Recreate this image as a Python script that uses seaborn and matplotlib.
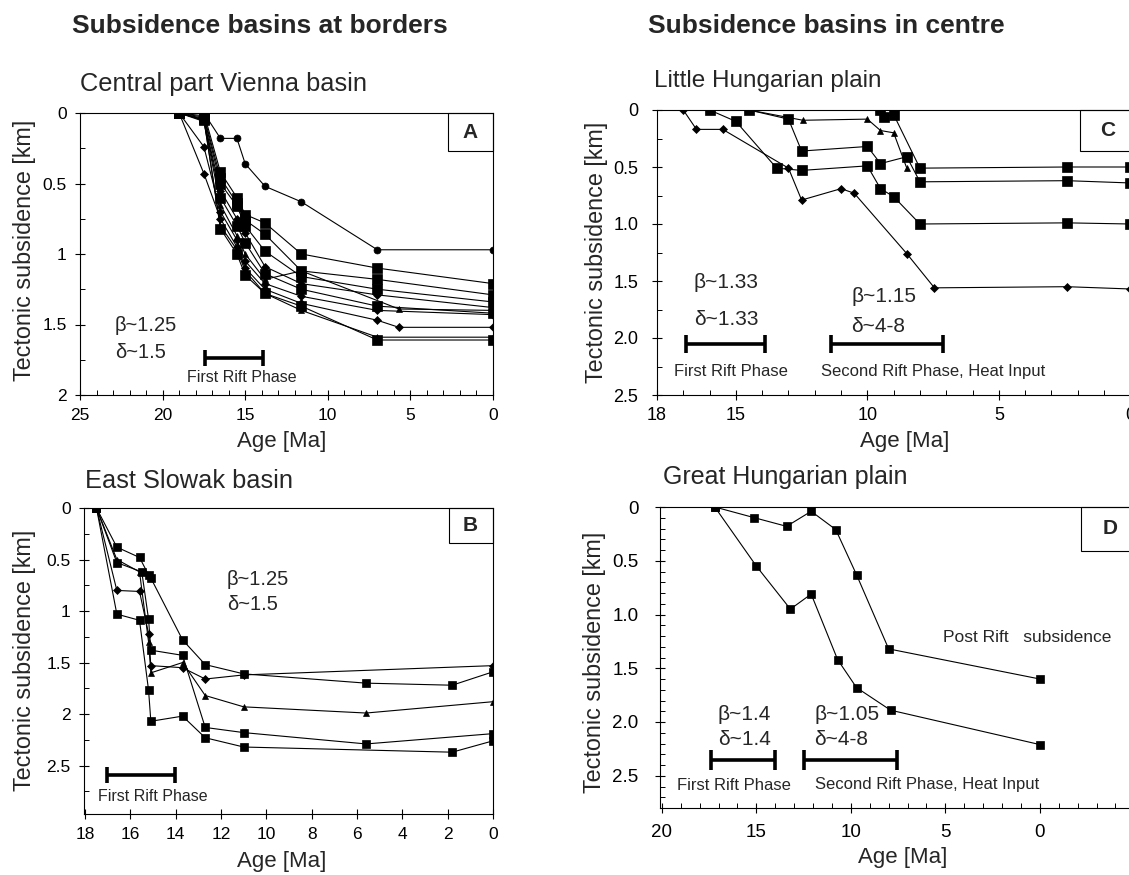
import numpy as np
import pandas as pd
import matplotlib
matplotlib.use("Agg")
import matplotlib.pyplot as plt
import seaborn as sns
from matplotlib.patches import Rectangle
from matplotlib.ticker import MultipleLocator

# ---------------- data ----------------
# Panel A: Central part Vienna basin (common age grid, NaN = no point)
A_AGES = [19.0, 17.5, 16.5, 15.5, 15.0, 13.8, 11.6, 7.0, 5.7, 0.0]
A_VALUES = [
    [np.nan, 0.00, 0.18, 0.18, 0.36, 0.52, 0.63, 0.97, np.nan, 0.97],
    [0.00, 0.00, 0.42, 0.60, 0.72, 0.78, 1.00, 1.10, np.nan, 1.21],
    [0.00, 0.02, 0.46, 0.64, 0.76, 0.86, 1.12, 1.18, np.nan, 1.29],
    [0.00, 0.03, 0.50, 0.66, 0.80, 0.98, 1.16, 1.25, np.nan, 1.34],
    [0.00, 0.05, 0.55, 0.75, 0.85, 1.09, 1.21, 1.29, np.nan, 1.38],
    [0.00, 0.05, 0.60, 0.80, 0.92, 1.14, 1.25, 1.37, np.nan, 1.42],
    [0.00, 0.06, 0.65, 0.87, 1.00, 1.18, 1.12, np.nan, 1.39, 1.40],
    [0.00, 0.24, 0.70, 0.90, 1.05, 1.21, 1.30, 1.40, np.nan, 1.43],
    [0.00, 0.43, 0.75, 0.95, 1.10, 1.25, 1.35, 1.47, 1.52, 1.52],
    [0.00, 0.05, 0.80, 0.97, 1.12, 1.28, 1.40, 1.59, np.nan, 1.59],
    [0.00, 0.04, 0.82, 1.00, 1.15, 1.28, 1.37, 1.61, np.nan, 1.61],
]
A_MARKERS = ["o", "s", "s", "s", "D", "s", "^", "D", "D", "^", "s"]

# Panel B: East Slowak basin
B_AGES = [
    [17.5, 16.6, 15.6, 15.2, 15.1, 13.7, 12.7, 11.0, 5.6, 1.8, 0.0],
    [17.5, 16.6, 15.5, 15.2, 15.1, 13.7, 12.7, 11.0, 5.6, 0.0],
    [17.5, 16.6, 15.6, 15.2, 15.1, 13.7, 12.7, 11.0, 5.6, 0.0],
    [17.5, 16.6, 15.6, 15.2, 15.1, 13.7, 12.7, 11.0, 0.0],
    [17.5, 16.6, 15.6, 15.2, 15.1, 13.7, 12.7, 11.0, 1.8, 0.0],
]
B_VALUES = [
    [0.00, 0.38, 0.48, 0.65, 0.68, 1.28, 1.52, 1.61, 1.70, 1.72, 1.59],
    [0.00, 0.53, 0.62, 1.08, 1.38, 1.43, 2.13, 2.18, 2.29, 2.19],
    [0.00, 0.50, 0.62, 1.30, 1.60, 1.50, 1.82, 1.93, 1.99, 1.88],
    [0.00, 0.80, 0.81, 1.22, 1.53, 1.55, 1.66, 1.62, 1.53],
    [0.00, 1.03, 1.09, 1.77, 2.07, 2.02, 2.23, 2.32, 2.37, 2.26],
]
B_MARKERS = ["s", "s", "^", "D", "s"]

# Panel C: Little Hungarian plain
C_AGES = [
    [17.0, 16.5, 15.5, 13.0, 12.5, 11.0, 10.5, 8.5, 7.45, 2.4, 0.0],
    [16.0, 15.0, 13.45, 12.5, 10.0, 9.5, 9.0, 8.0, 2.4, 0.0],
    [14.5, 13.0, 12.5, 10.0, 9.5, 8.5, 8.0, 2.4, 0.0],
    [14.5, 12.45, 10.0, 9.5, 9.0, 8.5],
    [9.5, 9.35, 9.0, 8.0, 2.4, 0.0],
]
C_VALUES = [
    [0.00, 0.17, 0.17, 0.51, 0.79, 0.69, 0.73, 1.26, 1.56, 1.55, 1.57],
    [0.00, 0.10, 0.51, 0.53, 0.49, 0.69, 0.76, 1.00, 0.99, 1.00],
    [0.00, 0.08, 0.36, 0.32, 0.47, 0.41, 0.63, 0.62, 0.64],
    [0.00, 0.09, 0.08, 0.18, 0.20, 0.51],
    [0.00, 0.06, 0.04, 0.51, 0.50, 0.50],
]
C_MARKERS = ["D", "s", "s", "^", "s"]

# Panel D: Great Hungarian plain
D_AGES = [
    [17.2, 15.1, 13.4, 12.1, 10.8, 9.7, 8.0, 0.0],
    [17.2, 15.0, 13.2, 12.1, 10.7, 9.7, 7.9, 0.0],
]
D_VALUES = [
    [0.00, 0.10, 0.18, 0.04, 0.21, 0.63, 1.32, 1.60],
    [0.00, 0.55, 0.95, 0.81, 1.42, 1.68, 1.89, 2.21],
]
D_MARKERS = ["s", "s"]

# ---------------- figure ----------------
sns.set_theme(style="white")
plt.rcParams["font.family"] = ["Liberation Sans", "DejaVu Sans"]

W, H = 1129, 875
fig = plt.figure(figsize=(W / 100, H / 100), dpi=100)
fig.patch.set_facecolor("white")


def add_ax(l, t, r, b):
    return fig.add_axes([l / W, 1 - b / H, (r - l) / W, (b - t) / H])


MS = {"s": 6.5, "o": 5.0, "D": 3.8, "^": 5.0}


def draw(ax, ages, vals, marker, scale=1.0):
    df = pd.DataFrame({"age": ages, "val": vals}).dropna()
    sns.lineplot(data=df, x="age", y="val", ax=ax, sort=False, estimator=None,
                 color="black", lw=0.8, marker=marker,
                 markersize=MS[marker] * scale, markeredgecolor="black",
                 markerfacecolor="black", markeredgewidth=0.5)


def bar(ax, x1, x2, y, ms):
    ax.plot([x1, x2], [y, y], color="black", lw=2.6, solid_capstyle="butt")
    ax.plot([x1, x2], [y, y], ls="none", marker="|", ms=ms, mew=2.6,
            color="black")


def style(ax, xmaj, xlab, xminor, ymaj, ylab, yminor, xpad, ypad, lsize):
    ax.set_facecolor("white")
    ax.set_xticks(xmaj)
    ax.set_xticklabels(xlab)
    ax.set_yticks(ymaj)
    ax.set_yticklabels(ylab)
    if xminor:
        ax.xaxis.set_minor_locator(MultipleLocator(xminor))
    if yminor:
        ax.yaxis.set_minor_locator(MultipleLocator(yminor))
    ax.tick_params(which="major", direction="inout", length=7, width=0.8,
                   bottom=True, left=True, colors="black", labelsize=lsize)
    ax.tick_params(axis="x", which="major", pad=xpad)
    ax.tick_params(axis="y", which="major", pad=ypad)
    ax.tick_params(which="minor", direction="in", length=3.5, width=0.7,
                   bottom=True, left=True, colors="black")
    for s in ax.spines.values():
        s.set_linewidth(0.8)
        s.set_color("black")
    ax.set_xlabel("")
    ax.set_ylabel("")


def box(ax, x0, x1, ytop, letter, lx, ly):
    ax.add_patch(Rectangle((min(x0, x1), 0), abs(x1 - x0), ytop, fill=False,
                           ec="black", lw=0.8, clip_on=False, zorder=5))
    ax.text(lx, ly, letter, ha="center", va="center", fontsize=15,
            fontweight="bold", zorder=6)


# ---- Panel A ----
axA = add_ax(80, 113, 493, 395)
for vals, m in zip(A_VALUES, A_MARKERS):
    draw(axA, A_AGES, vals, m, 1.1 if m == "s" else 1.0)
axA.set_xlim(25, 0)
axA.set_ylim(2, 0)
style(axA, [25, 20, 15, 10, 5, 0], ["25", "20", "15", "10", "5", "0"], 1,
      [0, 0.5, 1, 1.5, 2], ["0", "0.5", "1", "1.5", "2"], 0.25, 6, 6, 12.5)
box(axA, 2.75, 0, 0.27, "A", 1.37, 0.135)
axA.text(22.9, 1.51, "β~1.25", ha="left", va="center", fontsize=14.5)
axA.text(22.9, 1.70, "δ~1.5", ha="left", va="center", fontsize=14.5)
bar(axA, 17.43, 13.9, 1.74, 11)
axA.text(15.23, 1.875, "First Rift Phase", ha="center", va="center",
         fontsize=11.5)

# ---- Panel B ----
axB = add_ax(84, 508, 493, 814)
for a, v, m in zip(B_AGES, B_VALUES, B_MARKERS):
    draw(axB, a, v, m, 0.95 if m == "s" else 1.0)
axB.set_xlim(18.05, 0)
axB.set_ylim(2.97, 0)
style(axB, list(range(18, -1, -2)), [str(t) for t in range(18, -1, -2)], None,
      [0, 0.5, 1, 1.5, 2, 2.5], ["0", "0.5", "1", "1.5", "2", "2.5"], 0.25,
      6, 6, 12.5)
box(axB, 1.96, 0, 0.34, "B", 1.0, 0.17)
axB.text(11.74, 0.69, "β~1.25", ha="left", va="center", fontsize=14.5)
axB.text(11.74, 0.94, "δ~1.5", ha="left", va="center", fontsize=14.5)
bar(axB, 17.04, 14.05, 2.59, 11)
axB.text(15.0, 2.80, "First Rift Phase", ha="center", va="center",
         fontsize=11.5)

# ---- Panel C ----
axC = add_ax(657, 110, 1150, 395)
for a, v, m in zip(C_AGES, C_VALUES, C_MARKERS):
    draw(axC, a, v, m, 1.0)
axC.set_xlim(18, -0.75)
axC.set_ylim(2.5, 0)
style(axC, [18, 15, 10, 5, 0], ["18", "15", "10", "5", "0"], 1,
      [0, 0.5, 1.0, 1.5, 2.0, 2.5], ["0", "0.5", "1.0", "1.5", "2.0", "2.5"],
      0.25, 5, 10, 13)
box(axC, 1.9, -0.75, 0.36, "C", 0.85, 0.18)
axC.text(16.6, 1.51, "β~1.33", ha="left", va="center", fontsize=15)
axC.text(16.6, 1.84, "δ~1.33", ha="left", va="center", fontsize=15)
axC.text(10.6, 1.64, "β~1.15", ha="left", va="center", fontsize=15)
axC.text(10.6, 1.90, "δ~4-8", ha="left", va="center", fontsize=15)
bar(axC, 16.9, 13.9, 2.05, 12.5)
bar(axC, 11.4, 7.13, 2.05, 12.5)
axC.text(15.2, 2.29, "First Rift Phase", ha="center", va="center",
         fontsize=12)
axC.text(7.5, 2.29, "Second Rift Phase, Heat Input", ha="center",
         va="center", fontsize=12)

# ---- Panel D ----
axD = add_ax(660, 507, 1150, 808)
for a, v, m in zip(D_AGES, D_VALUES, D_MARKERS):
    draw(axD, a, v, m, 0.85)
axD.set_xlim(20.1, -5.83)
axD.set_ylim(2.8, 0)
style(axD, [20, 15, 10, 5, 0], ["20", "15", "10", "5", "0"], 1,
      [0, 0.5, 1.0, 1.5, 2.0, 2.5], ["0", "0.5", "1.0", "1.5", "2.0", "2.5"],
      0.1, 8, 12, 13.5)
box(axD, -2.2, -5.83, 0.41, "D", -3.7, 0.2)
axD.text(17.05, 1.93, "β~1.4", ha="left", va="center", fontsize=15)
axD.text(17.05, 2.16, "δ~1.4", ha="left", va="center", fontsize=15)
axD.text(11.92, 1.93, "β~1.05", ha="left", va="center", fontsize=15)
axD.text(11.92, 2.16, "δ~4-8", ha="left", va="center", fontsize=15)
bar(axD, 17.4, 14.0, 2.35, 14)
bar(axD, 12.5, 7.55, 2.35, 14)
axD.text(16.2, 2.59, "First Rift Phase", ha="center", va="center",
         fontsize=12)
axD.text(5.98, 2.58, "Second Rift Phase, Heat Input", ha="center",
         va="center", fontsize=12)
axD.text(0.69, 1.21, "Post Rift   subsidence", ha="center", va="center",
         fontsize=12.5)

# ---- titles and labels ----
fig.text(72 / W, 1 - 33 / H, "Subsidence basins at borders", ha="left",
         va="baseline", fontsize=19, fontweight="bold")
fig.text(648 / W, 1 - 33 / H, "Subsidence basins in centre", ha="left",
         va="baseline", fontsize=19, fontweight="bold")
fig.text(80 / W, 1 - 91 / H, "Central part Vienna basin", ha="left",
         va="baseline", fontsize=18.3)
fig.text(85 / W, 1 - 488 / H, "East Slowak basin", ha="left",
         va="baseline", fontsize=18.3)
fig.text(654 / W, 1 - 87 / H, "Little Hungarian plain", ha="left",
         va="baseline", fontsize=17.5)
fig.text(663 / W, 1 - 484 / H, "Great Hungarian plain", ha="left",
         va="baseline", fontsize=18)

for x, y in [(282, 441), (282, 862), (905, 441), (903, 858)]:
    fig.text(x / W, 1 - y / H, "Age [Ma]", ha="center", va="center",
             fontsize=16)
for x, y in [(25, 250), (25, 660), (596, 252), (595, 662)]:
    fig.text(x / W, 1 - y / H, "Tectonic subsidence [km]", ha="center",
             va="center", rotation=90, fontsize=16.8)

fig.savefig("out.png", dpi=100, facecolor="white")
